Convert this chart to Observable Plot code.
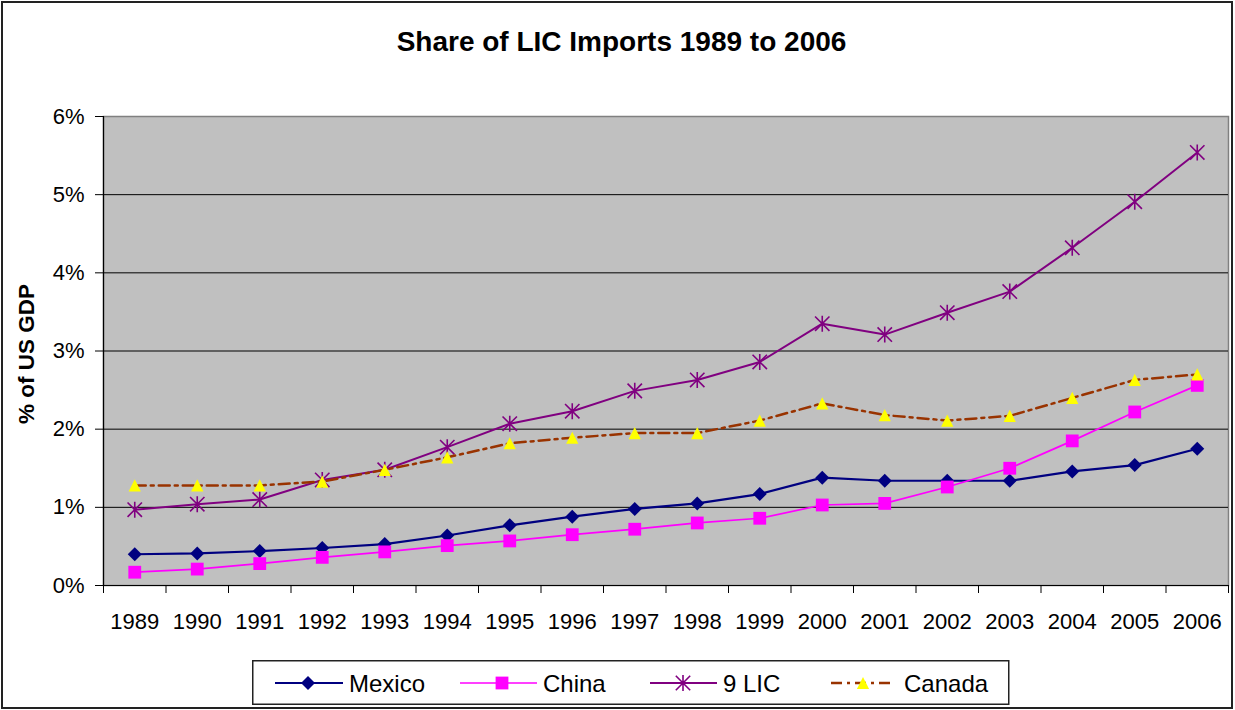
<!DOCTYPE html>
<html>
<head>
<meta charset="utf-8">
<script src="https://cdn.jsdelivr.net/npm/d3@7"></script>
<script src="https://cdn.jsdelivr.net/npm/@observablehq/plot@0.6"></script>
<style>
  body { margin: 0; background: #fff; font-family: "Liberation Sans", Arial, sans-serif; }
  #wrap { position: relative; width: 1235px; height: 710px; overflow: hidden; background: #fff; }
  #border { position: absolute; left: 1px; top: 1px; width: 1232px; height: 708px; box-sizing: border-box; border: 2px solid #222; }
  #title { position: absolute; left: 4px; width: 1235px; top: 26px; text-align: center; font-weight: bold; font-size: 28px; line-height: 32px; color: #000; }
  #ylab { position: absolute; left: -73px; top: 341px; width: 200px; line-height: 26px; text-align: center; font-weight: bold; font-size: 22.5px; transform: rotate(-90deg); transform-origin: 50% 50%; color: #000; white-space: nowrap; }
  #plot, #legend { position: absolute; left: 0; top: 0; }
  #legend { left: 252px; top: 660px; }
</style>
</head>
<body>
<div id="wrap">
  <div id="border"></div>
  <div id="plot"></div>
  <div id="title">Share of LIC Imports 1989 to 2006</div>
  <div id="ylab">% of US GDP</div>
  <svg id="legend" width="758" height="46"></svg>
</div>
<script>
// ---- data (percent of US GDP) ----
const years = [1989, 1990, 1991, 1992, 1993, 1994, 1995, 1996, 1997, 1998, 1999, 2000, 2001, 2002, 2003, 2004, 2005, 2006];
const mexico = [0.40, 0.41, 0.44, 0.48, 0.53, 0.64, 0.77, 0.88, 0.98, 1.05, 1.17, 1.38, 1.34, 1.34, 1.34, 1.46, 1.54, 1.75];
const china  = [0.17, 0.21, 0.28, 0.36, 0.43, 0.51, 0.57, 0.65, 0.72, 0.80, 0.86, 1.03, 1.05, 1.26, 1.50, 1.85, 2.22, 2.56];
const lic9   = [0.97, 1.04, 1.10, 1.35, 1.48, 1.77, 2.07, 2.23, 2.49, 2.63, 2.86, 3.35, 3.21, 3.49, 3.76, 4.32, 4.91, 5.54];
const canada = [1.28, 1.28, 1.28, 1.33, 1.48, 1.64, 1.82, 1.89, 1.95, 1.95, 2.11, 2.33, 2.18, 2.11, 2.17, 2.40, 2.63, 2.70];
const seriesNames = ["Mexico", "China", "9 LIC", "Canada"];
const yTicks = [0, 1, 2, 3, 4, 5, 6];

// ---- symbols ----
const rad = size => Math.sqrt(size / Math.PI);
const diamondSym = { draw(ctx, size) { const r = rad(size); ctx.moveTo(0, -r); ctx.lineTo(r, 0); ctx.lineTo(0, r); ctx.lineTo(-r, 0); ctx.closePath(); } };
const squareSym = { draw(ctx, size) { const r = rad(size); ctx.rect(-r, -r, 2 * r, 2 * r); } };
const starSym = { draw(ctx, size) { const r = rad(size); const k = r * 0.9;
  ctx.moveTo(0, -r); ctx.lineTo(0, r); ctx.moveTo(-k, -k); ctx.lineTo(k, k); ctx.moveTo(-k, k); ctx.lineTo(k, -k); } };
const triSym = { draw(ctx, size) { const r = rad(size); ctx.moveTo(0, -r); ctx.lineTo(r, r); ctx.lineTo(-r, r); ctx.closePath(); } };

const styles = [
  { line: { stroke: "#000080", strokeWidth: 2.2 }, dot: { symbol: diamondSym, r: 7, fill: "#000080" } },
  { line: { stroke: "#ff00ff", strokeWidth: 1.7 }, dot: { symbol: squareSym, r: 6.4, fill: "#ff00ff" } },
  { line: { stroke: "#800080", strokeWidth: 2 }, dot: { symbol: starSym, r: 8, fill: "none", stroke: "#800080", strokeWidth: 1.6 } },
  { line: { stroke: "#993300", strokeWidth: 2.5, strokeDasharray: "11,5,3,5" }, dot: { symbol: triSym, r: 6.1, fill: "#ffff00" } }
];
const values = [mexico, china, lic9, canada];
const tables = values.map(v => years.map((yr, i) => ({ year: yr, value: v[i] })));
const boundaries = [...years.map(y => y - 0.5), years[years.length - 1] + 0.5];

const marks = [
  Plot.frame({ fill: "#c0c0c0", stroke: "#808080", strokeWidth: 1.5 }),
  Plot.ruleY(yTicks.filter(t => t > 0 && t < 6), { stroke: "#000", strokeWidth: 1 }),
  Plot.ruleX([boundaries[0]], { stroke: "#000", strokeWidth: 1.2 }),
  Plot.ruleY([0], { stroke: "#000", strokeWidth: 1.2 }),
  Plot.axisY({ ticks: yTicks, tickSize: 8, tickPadding: 11, tickFormat: d => d + "%", fontSize: 22, label: null }),
  Plot.axisX({ ticks: boundaries, tickSize: 8, tickFormat: () => "", label: null }),
  Plot.axisX({ ticks: years, tickSize: 0, tickPadding: 28, tickFormat: d => String(d), fontSize: 22, label: null })
];
tables.forEach((t, i) => {
  marks.push(Plot.line(t, { x: "year", y: "value", ...styles[i].line }));
  marks.push(Plot.dot(t, { x: "year", y: "value", ...styles[i].dot }));
});

const chart = Plot.plot({
  width: 1235,
  height: 640,
  marginLeft: 103,
  marginRight: 7,
  marginTop: 116,
  marginBottom: 55,
  style: { background: "transparent", color: "#000", fontFamily: "'Liberation Sans', Arial, sans-serif", overflow: "visible" },
  x: { type: "linear", domain: [boundaries[0], boundaries[boundaries.length - 1]] },
  y: { type: "linear", domain: [0, 6] },
  marks
});
document.getElementById("plot").appendChild(chart);

// ---- legend ----
const lg = d3.select("#legend");
lg.append("rect").attr("x", 0.75).attr("y", 0.75).attr("width", 756).attr("height", 43.5)
  .attr("fill", "#fff").attr("stroke", "#222").attr("stroke-width", 1.5);
const items = [
  { x1: 23, x2: 91, m: 56, t: 97 },
  { x1: 208, x2: 285, m: 250, t: 291 },
  { x1: 398, x2: 465, m: 431, t: 471 },
  { x1: 579, x2: 643, m: 611, t: 652 }
];
const cy = 23;
items.forEach((it, i) => {
  const st = styles[i];
  lg.append("line").attr("x1", it.x1).attr("x2", it.x2).attr("y1", cy).attr("y2", cy)
    .attr("stroke", st.line.stroke).attr("stroke-width", st.line.strokeWidth)
    .attr("stroke-dasharray", st.line.strokeDasharray || null);
  lg.append("path").attr("transform", `translate(${it.m},${cy})`)
    .attr("d", d3.symbol().type(st.dot.symbol).size(Math.PI * st.dot.r * st.dot.r)())
    .attr("fill", st.dot.fill).attr("stroke", st.dot.stroke || "none").attr("stroke-width", st.dot.strokeWidth || 0);
  lg.append("text").attr("x", it.t).attr("y", cy + 8.5).text(seriesNames[i])
    .attr("font-size", 24).attr("font-family", "'Liberation Sans', Arial, sans-serif").attr("fill", "#000");
});
</script>
</body>
</html>
